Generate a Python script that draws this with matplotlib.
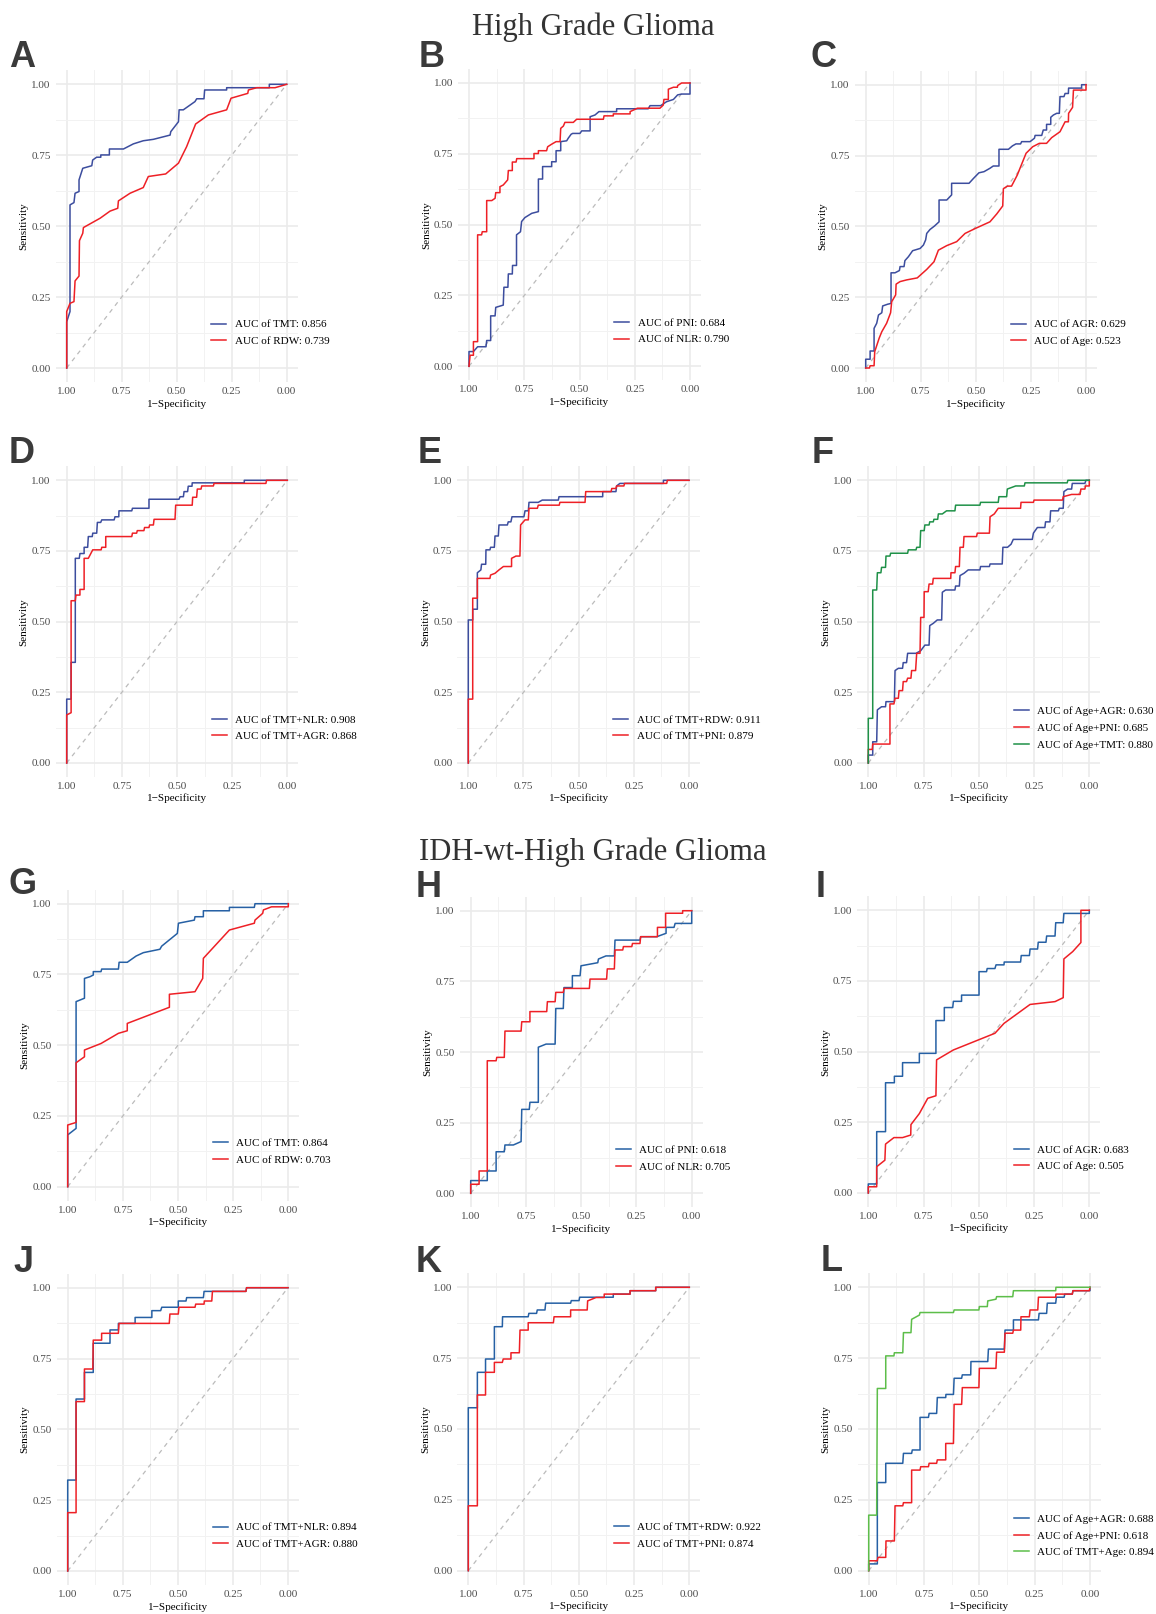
import matplotlib.pyplot as plt
import numpy as np

plt.rcParams['font.family'] = ['Liberation Serif', 'DejaVu Serif']

# ROC curves: (specificity, sensitivity)
# ---- High Grade Glioma ----
a_tmt = [(1, 0), (1, 0.163), (0.985, 0.199), (0.985, 0.575), (0.967, 0.583), (0.962, 0.616), (0.944, 0.622),
         (0.944, 0.663), (0.927, 0.704), (0.886, 0.713), (0.882, 0.733), (0.864, 0.743), (0.845, 0.743),
         (0.845, 0.751), (0.806, 0.751), (0.806, 0.772), (0.742, 0.772), (0.697, 0.790), (0.652, 0.801),
         (0.606, 0.806), (0.530, 0.821), (0.527, 0.833), (0.492, 0.868), (0.489, 0.910), (0.470, 0.910),
         (0.417, 0.939), (0.409, 0.949), (0.376, 0.949), (0.373, 0.980), (0.273, 0.980), (0.273, 0.988),
         (0.079, 0.988), (0.079, 1), (0, 1)]
a_rdw = [(1, 0), (1, 0.199), (0.985, 0.228), (0.967, 0.234), (0.962, 0.307), (0.944, 0.324), (0.942, 0.449),
         (0.927, 0.475), (0.924, 0.495), (0.848, 0.528), (0.803, 0.553), (0.768, 0.563), (0.765, 0.589),
         (0.712, 0.616), (0.652, 0.636), (0.629, 0.675), (0.550, 0.684), (0.492, 0.722), (0.455, 0.780),
         (0.414, 0.860), (0.356, 0.892), (0.273, 0.910), (0.253, 0.951), (0.177, 0.968), (0.174, 0.980),
         (0.136, 0.988), (0.053, 0.988), (0, 1)]

b_pni = [(1, 0), (1, 0.052), (0.980, 0.052), (0.961, 0.069), (0.923, 0.069), (0.920, 0.091), (0.902, 0.091),
         (0.902, 0.178), (0.882, 0.178), (0.879, 0.208), (0.845, 0.216), (0.842, 0.279), (0.824, 0.279),
         (0.822, 0.326), (0.804, 0.326), (0.803, 0.356), (0.785, 0.356), (0.785, 0.464), (0.767, 0.475),
         (0.762, 0.511), (0.747, 0.525), (0.716, 0.540), (0.686, 0.546), (0.686, 0.661), (0.667, 0.661),
         (0.667, 0.705), (0.626, 0.705), (0.626, 0.722), (0.606, 0.722), (0.606, 0.761), (0.585, 0.761),
         (0.585, 0.793), (0.558, 0.796), (0.551, 0.805), (0.538, 0.819), (0.531, 0.822), (0.498, 0.822),
         (0.490, 0.831), (0.452, 0.831), (0.452, 0.881), (0.430, 0.887), (0.412, 0.899), (0.332, 0.899),
         (0.332, 0.909), (0.189, 0.909), (0.181, 0.920), (0.133, 0.920), (0.106, 0.934), (0.075, 0.942),
         (0.056, 0.958), (0.038, 0.961), (0, 0.961), (0, 1)]
b_nlr = [(1, 0), (0.995, 0.039), (0.980, 0.039), (0.980, 0.087), (0.961, 0.087), (0.961, 0.464), (0.943, 0.464),
         (0.940, 0.475), (0.920, 0.475), (0.920, 0.585), (0.897, 0.585), (0.882, 0.593), (0.879, 0.613),
         (0.860, 0.613), (0.860, 0.634), (0.845, 0.640), (0.825, 0.658), (0.822, 0.691), (0.804, 0.691),
         (0.804, 0.721), (0.787, 0.721), (0.784, 0.733), (0.706, 0.733), (0.706, 0.751), (0.686, 0.751),
         (0.686, 0.761), (0.649, 0.761), (0.644, 0.775), (0.626, 0.784), (0.606, 0.793), (0.588, 0.793),
         (0.585, 0.840), (0.573, 0.848), (0.566, 0.861), (0.528, 0.861), (0.513, 0.872), (0.392, 0.872),
         (0.389, 0.884), (0.347, 0.884), (0.347, 0.891), (0.271, 0.891), (0.271, 0.899), (0.249, 0.907),
         (0.238, 0.911), (0.136, 0.911), (0.121, 0.922), (0.118, 0.942), (0.098, 0.942), (0.098, 0.978),
         (0.075, 0.985), (0.057, 0.985), (0.056, 0.991), (0.038, 1), (0, 1)]

c_agr = [(1, 0), (1, 0.031), (0.980, 0.031), (0.980, 0.060), (0.962, 0.060), (0.962, 0.140), (0.950, 0.158),
         (0.942, 0.187), (0.927, 0.195), (0.923, 0.219), (0.901, 0.225), (0.885, 0.228), (0.885, 0.336),
         (0.867, 0.336), (0.847, 0.344), (0.844, 0.358), (0.826, 0.358), (0.822, 0.379), (0.806, 0.393),
         (0.787, 0.414), (0.753, 0.422), (0.738, 0.434), (0.728, 0.452), (0.723, 0.475), (0.708, 0.489),
         (0.688, 0.501), (0.667, 0.516), (0.667, 0.593), (0.632, 0.593), (0.610, 0.611), (0.610, 0.652),
         (0.531, 0.652), (0.511, 0.669), (0.486, 0.689), (0.463, 0.693), (0.436, 0.705), (0.421, 0.713),
         (0.395, 0.713), (0.395, 0.772), (0.352, 0.772), (0.334, 0.784), (0.318, 0.791), (0.297, 0.791),
         (0.292, 0.799), (0.254, 0.799), (0.234, 0.811), (0.231, 0.821), (0.201, 0.821), (0.194, 0.840),
         (0.179, 0.840), (0.179, 0.860), (0.160, 0.860), (0.160, 0.885), (0.148, 0.893), (0.133, 0.899),
         (0.121, 0.899), (0.118, 0.958), (0.100, 0.958), (0.095, 0.969), (0.080, 0.969), (0.079, 0.988),
         (0.020, 0.988), (0.020, 1), (0, 1)]
c_age = [(1, 0), (0.983, 0), (0.980, 0.008), (0.962, 0.008), (0.959, 0.058), (0.939, 0.105), (0.927, 0.128),
         (0.905, 0.158), (0.887, 0.195), (0.882, 0.234), (0.864, 0.258), (0.862, 0.296), (0.844, 0.305),
         (0.814, 0.311), (0.766, 0.318), (0.723, 0.348), (0.690, 0.375), (0.670, 0.416), (0.632, 0.432),
         (0.587, 0.446), (0.549, 0.475), (0.504, 0.492), (0.436, 0.516), (0.405, 0.544), (0.378, 0.572),
         (0.375, 0.633), (0.357, 0.642), (0.338, 0.642), (0.312, 0.681), (0.272, 0.758), (0.242, 0.781),
         (0.212, 0.793), (0.179, 0.793), (0.156, 0.813), (0.118, 0.834), (0.095, 0.869), (0.080, 0.869),
         (0.079, 0.899), (0.061, 0.920), (0.057, 0.981), (0, 0.981), (0, 1)]

d_tmt_nlr = [(1, 0), (1, 0.226), (0.980, 0.226), (0.980, 0.356), (0.961, 0.356), (0.961, 0.724), (0.943, 0.724),
             (0.940, 0.741), (0.921, 0.741), (0.921, 0.763), (0.905, 0.763), (0.902, 0.801), (0.884, 0.801),
             (0.882, 0.813), (0.864, 0.813), (0.861, 0.851), (0.846, 0.851), (0.841, 0.860), (0.785, 0.860),
             (0.781, 0.871), (0.764, 0.871), (0.763, 0.892), (0.705, 0.892), (0.702, 0.901), (0.627, 0.901),
             (0.627, 0.933), (0.491, 0.933), (0.486, 0.942), (0.471, 0.942), (0.468, 0.960), (0.452, 0.960),
             (0.449, 0.979), (0.432, 0.979), (0.431, 0.991), (0.195, 0.991), (0.195, 1), (0, 1)]
d_tmt_agr = [(1, 0), (1, 0.170), (0.980, 0.178), (0.980, 0.574), (0.961, 0.574), (0.958, 0.594), (0.940, 0.594),
             (0.940, 0.614), (0.921, 0.614), (0.921, 0.724), (0.902, 0.724), (0.882, 0.754), (0.844, 0.754),
             (0.841, 0.763), (0.823, 0.763), (0.823, 0.801), (0.705, 0.801), (0.702, 0.813), (0.683, 0.813),
             (0.680, 0.822), (0.650, 0.822), (0.647, 0.833), (0.627, 0.833), (0.624, 0.842), (0.607, 0.842),
             (0.604, 0.862), (0.509, 0.862), (0.506, 0.912), (0.431, 0.912), (0.429, 0.940), (0.411, 0.940),
             (0.408, 0.969), (0.391, 0.969), (0.388, 0.980), (0.335, 0.980), (0.332, 0.989), (0.097, 0.989),
             (0.094, 1), (0, 1)]

e_tmt_rdw = [(1, 0), (1, 0.506), (0.980, 0.506), (0.980, 0.544), (0.959, 0.544), (0.959, 0.673), (0.943, 0.683),
             (0.940, 0.703), (0.921, 0.703), (0.920, 0.754), (0.902, 0.754), (0.899, 0.763), (0.882, 0.763),
             (0.879, 0.803), (0.864, 0.803), (0.861, 0.842), (0.823, 0.842), (0.819, 0.853), (0.807, 0.853),
             (0.802, 0.871), (0.748, 0.871), (0.743, 0.892), (0.728, 0.892), (0.725, 0.922), (0.683, 0.922),
             (0.665, 0.930), (0.592, 0.930), (0.589, 0.942), (0.391, 0.942), (0.391, 0.960), (0.331, 0.960),
             (0.328, 0.980), (0.313, 0.989), (0.116, 0.989), (0.116, 1), (0, 1)]
e_tmt_pni = [(1, 0), (1, 0.226), (0.980, 0.226), (0.980, 0.583), (0.959, 0.583), (0.959, 0.653), (0.902, 0.653),
             (0.899, 0.665), (0.879, 0.671), (0.861, 0.683), (0.841, 0.695), (0.804, 0.695), (0.804, 0.724),
             (0.784, 0.732), (0.766, 0.732), (0.763, 0.842), (0.743, 0.860), (0.728, 0.860), (0.725, 0.901),
             (0.687, 0.901), (0.683, 0.912), (0.588, 0.912), (0.585, 0.922), (0.471, 0.922), (0.468, 0.960),
             (0.353, 0.960), (0.350, 0.971), (0.331, 0.971), (0.328, 0.980), (0.295, 0.980), (0.292, 0.989),
             (0.101, 0.989), (0.098, 1), (0, 1)]

f_age_agr = [(1, 0), (1, 0.028), (0.980, 0.028), (0.980, 0.075), (0.962, 0.075), (0.959, 0.188), (0.940, 0.199),
             (0.922, 0.199), (0.920, 0.217), (0.882, 0.217), (0.879, 0.327), (0.864, 0.335), (0.845, 0.335),
             (0.842, 0.355), (0.827, 0.355), (0.822, 0.388), (0.784, 0.388), (0.763, 0.397), (0.744, 0.417),
             (0.725, 0.417), (0.722, 0.486), (0.706, 0.494), (0.688, 0.506), (0.668, 0.506), (0.665, 0.604),
             (0.650, 0.612), (0.608, 0.612), (0.605, 0.626), (0.588, 0.626), (0.585, 0.663), (0.567, 0.671),
             (0.548, 0.683), (0.495, 0.683), (0.492, 0.695), (0.452, 0.695), (0.449, 0.704), (0.394, 0.704),
             (0.391, 0.763), (0.370, 0.763), (0.354, 0.774), (0.344, 0.791), (0.258, 0.791), (0.253, 0.813),
             (0.235, 0.833), (0.201, 0.833), (0.198, 0.853), (0.178, 0.853), (0.175, 0.892), (0.140, 0.892),
             (0.136, 0.901), (0.118, 0.901), (0.115, 0.960), (0.098, 0.969), (0.080, 0.969), (0.077, 0.989),
             (0.020, 0.989), (0.015, 1), (0, 1)]
f_age_pni = [(1, 0), (1, 0.048), (0.982, 0.048), (0.980, 0.067), (0.902, 0.067), (0.902, 0.209), (0.884, 0.209),
             (0.879, 0.229), (0.864, 0.229), (0.861, 0.256), (0.845, 0.256), (0.842, 0.288), (0.827, 0.288),
             (0.822, 0.300), (0.807, 0.300), (0.804, 0.327), (0.786, 0.327), (0.781, 0.388), (0.766, 0.388),
             (0.763, 0.515), (0.748, 0.515), (0.747, 0.606), (0.729, 0.606), (0.725, 0.633), (0.709, 0.633),
             (0.706, 0.653), (0.627, 0.653), (0.626, 0.673), (0.608, 0.673), (0.605, 0.695), (0.588, 0.695),
             (0.585, 0.763), (0.570, 0.763), (0.567, 0.801), (0.510, 0.801), (0.507, 0.813), (0.452, 0.813),
             (0.449, 0.871), (0.430, 0.881), (0.412, 0.901), (0.311, 0.901), (0.309, 0.922), (0.253, 0.922),
             (0.250, 0.930), (0.121, 0.930), (0.118, 0.942), (0.080, 0.950), (0.042, 0.950), (0.038, 0.969),
             (0.020, 0.969), (0.017, 0.980), (0, 0.980), (0, 1)]
f_age_tmt = [(1, 0), (1, 0.158), (0.980, 0.158), (0.980, 0.612), (0.962, 0.612), (0.959, 0.673), (0.943, 0.673),
             (0.940, 0.692), (0.922, 0.692), (0.920, 0.732), (0.902, 0.732), (0.899, 0.742), (0.822, 0.742),
             (0.819, 0.754), (0.784, 0.754), (0.781, 0.763), (0.766, 0.763), (0.763, 0.822), (0.747, 0.822),
             (0.744, 0.842), (0.725, 0.842), (0.722, 0.853), (0.706, 0.853), (0.703, 0.862), (0.686, 0.862),
             (0.683, 0.881), (0.665, 0.881), (0.646, 0.892), (0.608, 0.892), (0.605, 0.912), (0.495, 0.912),
             (0.492, 0.922), (0.412, 0.922), (0.409, 0.942), (0.374, 0.942), (0.371, 0.969), (0.333, 0.980),
             (0.294, 0.980), (0.291, 0.991), (0.100, 0.991), (0.097, 1), (0, 1)]

# ---- IDH-wt High Grade Glioma ----
g_tmt = [(1, 0), (1, 0.183), (0.962, 0.206), (0.962, 0.654), (0.924, 0.666), (0.924, 0.736), (0.899, 0.742),
         (0.884, 0.748), (0.884, 0.760), (0.849, 0.760), (0.846, 0.769), (0.770, 0.769), (0.767, 0.793),
         (0.730, 0.793), (0.690, 0.815), (0.657, 0.827), (0.582, 0.839), (0.574, 0.850), (0.503, 0.895),
         (0.498, 0.931), (0.426, 0.942), (0.423, 0.954), (0.385, 0.954), (0.385, 0.975), (0.267, 0.975),
         (0.267, 0.987), (0.154, 0.987), (0.151, 1), (0, 1)]
g_rdw = [(1, 0), (1, 0.218), (0.962, 0.227), (0.962, 0.438), (0.924, 0.459), (0.924, 0.483), (0.849, 0.506),
         (0.770, 0.542), (0.730, 0.551), (0.730, 0.577), (0.539, 0.634), (0.539, 0.680), (0.423, 0.689),
         (0.388, 0.736), (0.385, 0.807), (0.267, 0.907), (0.154, 0.931), (0.151, 0.942), (0.116, 0.966),
         (0.113, 0.978), (0.076, 0.989), (0, 0.989), (0, 1)]

h_pni = [(1, 0), (1, 0.045), (0.925, 0.045), (0.925, 0.079), (0.885, 0.079), (0.885, 0.147), (0.848, 0.147),
         (0.845, 0.171), (0.807, 0.171), (0.772, 0.183), (0.769, 0.297), (0.735, 0.297), (0.732, 0.322),
         (0.694, 0.322), (0.694, 0.517), (0.659, 0.528), (0.618, 0.528), (0.615, 0.654), (0.581, 0.654),
         (0.578, 0.728), (0.540, 0.728), (0.540, 0.770), (0.505, 0.770), (0.501, 0.805), (0.425, 0.816),
         (0.422, 0.829), (0.388, 0.840), (0.350, 0.840), (0.347, 0.896), (0.234, 0.896), (0.231, 0.908),
         (0.158, 0.908), (0.116, 0.920), (0.116, 0.941), (0.080, 0.941), (0.075, 0.955), (0, 0.955), (0, 1)]
h_nlr = [(1, 0), (1, 0.032), (0.962, 0.032), (0.962, 0.079), (0.925, 0.079), (0.925, 0.469), (0.885, 0.469),
         (0.882, 0.481), (0.848, 0.481), (0.845, 0.574), (0.772, 0.574), (0.769, 0.607), (0.732, 0.607),
         (0.732, 0.643), (0.656, 0.643), (0.653, 0.678), (0.618, 0.678), (0.615, 0.711), (0.581, 0.711),
         (0.578, 0.725), (0.463, 0.725), (0.460, 0.758), (0.385, 0.758), (0.382, 0.794), (0.350, 0.794),
         (0.347, 0.861), (0.312, 0.861), (0.309, 0.873), (0.271, 0.873), (0.268, 0.884), (0.234, 0.884),
         (0.231, 0.908), (0.155, 0.908), (0.155, 0.941), (0.118, 0.941), (0.118, 0.991), (0.041, 0.991),
         (0.041, 1), (0, 1)]

i_agr = [(1, 0), (1, 0.032), (0.962, 0.032), (0.962, 0.217), (0.922, 0.217), (0.922, 0.390), (0.882, 0.390),
         (0.882, 0.413), (0.845, 0.413), (0.845, 0.461), (0.769, 0.461), (0.769, 0.494), (0.694, 0.494),
         (0.694, 0.610), (0.656, 0.610), (0.656, 0.656), (0.618, 0.656), (0.615, 0.678), (0.578, 0.678),
         (0.578, 0.700), (0.499, 0.700), (0.499, 0.783), (0.465, 0.783), (0.462, 0.794), (0.427, 0.794),
         (0.422, 0.807), (0.386, 0.807), (0.385, 0.817), (0.311, 0.817), (0.308, 0.840), (0.271, 0.840),
         (0.268, 0.863), (0.234, 0.863), (0.231, 0.887), (0.196, 0.887), (0.193, 0.909), (0.155, 0.909),
         (0.152, 0.956), (0.118, 0.956), (0.115, 0.989), (0, 0.989), (0, 1)]
i_age = [(1, 0), (1, 0.022), (0.962, 0.022), (0.962, 0.093), (0.925, 0.116), (0.922, 0.173), (0.884, 0.196),
         (0.845, 0.196), (0.808, 0.205), (0.807, 0.242), (0.769, 0.281), (0.731, 0.335), (0.694, 0.344),
         (0.691, 0.471), (0.615, 0.506), (0.427, 0.565), (0.386, 0.600), (0.268, 0.667), (0.155, 0.677),
         (0.118, 0.691), (0.115, 0.828), (0.075, 0.854), (0.038, 0.886), (0.038, 1), (0, 1)]

j_tmt_nlr = [(1, 0), (1, 0.321), (0.962, 0.321), (0.962, 0.607), (0.924, 0.607), (0.924, 0.701), (0.884, 0.701),
             (0.884, 0.804), (0.808, 0.804), (0.808, 0.851), (0.770, 0.851), (0.770, 0.874), (0.694, 0.874),
             (0.694, 0.895), (0.618, 0.895), (0.618, 0.919), (0.578, 0.919), (0.573, 0.931), (0.498, 0.931),
             (0.498, 0.953), (0.463, 0.953), (0.460, 0.965), (0.384, 0.965), (0.381, 0.987), (0.191, 0.987),
             (0.188, 1), (0, 1)]
j_tmt_agr = [(1, 0), (1, 0.206), (0.962, 0.206), (0.962, 0.598), (0.924, 0.598), (0.924, 0.713), (0.886, 0.713),
             (0.884, 0.815), (0.846, 0.815), (0.846, 0.839), (0.770, 0.839), (0.767, 0.874), (0.539, 0.874),
             (0.536, 0.907), (0.498, 0.907), (0.495, 0.931), (0.422, 0.931), (0.419, 0.942), (0.381, 0.942),
             (0.380, 0.953), (0.346, 0.953), (0.343, 0.987), (0.191, 0.987), (0.188, 1), (0, 1)]

k_tmt_rdw = [(1, 0), (1, 0.575), (0.959, 0.575), (0.959, 0.700), (0.922, 0.700), (0.922, 0.747), (0.882, 0.747),
             (0.882, 0.861), (0.846, 0.861), (0.845, 0.896), (0.729, 0.896), (0.726, 0.908), (0.691, 0.908),
             (0.688, 0.920), (0.653, 0.920), (0.650, 0.944), (0.537, 0.944), (0.534, 0.953), (0.499, 0.953),
             (0.496, 0.965), (0.344, 0.965), (0.344, 0.976), (0.268, 0.976), (0.268, 0.988), (0.152, 0.988),
             (0.152, 1), (0, 1)]
k_tmt_pni = [(1, 0), (1, 0.229), (0.959, 0.229), (0.959, 0.620), (0.922, 0.620), (0.922, 0.700), (0.882, 0.700),
             (0.882, 0.735), (0.846, 0.735), (0.842, 0.747), (0.807, 0.747), (0.807, 0.769), (0.769, 0.769),
             (0.766, 0.849), (0.729, 0.849), (0.729, 0.875), (0.615, 0.875), (0.612, 0.896), (0.537, 0.896),
             (0.537, 0.920), (0.462, 0.920), (0.460, 0.952), (0.422, 0.964), (0.385, 0.964), (0.385, 0.976),
             (0.268, 0.976), (0.268, 0.988), (0.152, 0.988), (0.152, 1), (0, 1)]

l_age_agr = [(1, 0), (1, 0.024), (0.961, 0.024), (0.961, 0.311), (0.923, 0.311), (0.923, 0.379), (0.846, 0.379),
             (0.843, 0.414), (0.806, 0.414), (0.803, 0.426), (0.768, 0.426), (0.768, 0.541), (0.730, 0.541),
             (0.727, 0.555), (0.693, 0.555), (0.690, 0.611), (0.652, 0.611), (0.651, 0.622), (0.617, 0.622),
             (0.614, 0.679), (0.580, 0.679), (0.577, 0.691), (0.539, 0.691), (0.538, 0.738), (0.462, 0.738),
             (0.459, 0.782), (0.387, 0.782), (0.384, 0.849), (0.346, 0.849), (0.346, 0.885), (0.233, 0.885),
             (0.230, 0.908), (0.196, 0.908), (0.193, 0.944), (0.155, 0.944), (0.152, 0.965), (0.117, 0.965),
             (0.114, 0.976), (0.080, 0.976), (0.077, 0.988), (0, 0.988), (0, 1)]
l_age_pni = [(1, 0), (1, 0.035), (0.961, 0.035), (0.958, 0.047), (0.923, 0.047), (0.922, 0.105), (0.884, 0.105),
             (0.881, 0.229), (0.846, 0.229), (0.843, 0.240), (0.806, 0.240), (0.806, 0.355), (0.768, 0.355),
             (0.765, 0.367), (0.730, 0.367), (0.727, 0.379), (0.693, 0.379), (0.690, 0.391), (0.652, 0.391),
             (0.652, 0.449), (0.617, 0.449), (0.614, 0.587), (0.580, 0.587), (0.577, 0.646), (0.502, 0.646),
             (0.500, 0.714), (0.425, 0.714), (0.422, 0.771), (0.387, 0.771), (0.384, 0.838), (0.349, 0.838),
             (0.346, 0.849), (0.313, 0.849), (0.312, 0.896), (0.274, 0.896), (0.271, 0.920), (0.236, 0.920),
             (0.233, 0.965), (0.155, 0.965), (0.154, 0.976), (0.080, 0.976), (0.077, 0.988), (0.003, 0.988),
             (0, 1)]
l_tmt_age = [(1, 0), (1, 0.196), (0.964, 0.196), (0.961, 0.643), (0.923, 0.643), (0.923, 0.758), (0.886, 0.758),
             (0.884, 0.769), (0.846, 0.769), (0.843, 0.840), (0.809, 0.840), (0.806, 0.887), (0.771, 0.902),
             (0.768, 0.911), (0.617, 0.911), (0.614, 0.920), (0.502, 0.920), (0.500, 0.932), (0.464, 0.932),
             (0.462, 0.952), (0.425, 0.958), (0.422, 0.967), (0.349, 0.967), (0.346, 0.988), (0.155, 0.988),
             (0.154, 1), (0, 1)]

letters = list('ABCDEFGHIJKL')
curve_names = [['TMT', 'RDW'], ['PNI', 'NLR'], ['AGR', 'Age'],
               ['TMT+NLR', 'TMT+AGR'], ['TMT+RDW', 'TMT+PNI'], ['Age+AGR', 'Age+PNI', 'Age+TMT'],
               ['TMT', 'RDW'], ['PNI', 'NLR'], ['AGR', 'Age'],
               ['TMT+NLR', 'TMT+AGR'], ['TMT+RDW', 'TMT+PNI'], ['Age+AGR', 'Age+PNI', 'TMT+Age']]
auc_values = [[0.856, 0.739], [0.684, 0.790], [0.629, 0.523],
              [0.908, 0.868], [0.911, 0.879], [0.630, 0.685, 0.880],
              [0.864, 0.703], [0.618, 0.705], [0.683, 0.505],
              [0.894, 0.880], [0.922, 0.874], [0.688, 0.618, 0.894]]
curves = [[a_tmt, a_rdw], [b_pni, b_nlr], [c_agr, c_age],
          [d_tmt_nlr, d_tmt_agr], [e_tmt_rdw, e_tmt_pni], [f_age_agr, f_age_pni, f_age_tmt],
          [g_tmt, g_rdw], [h_pni, h_nlr], [i_agr, i_age],
          [j_tmt_nlr, j_tmt_agr], [k_tmt_rdw, k_tmt_pni], [l_age_agr, l_age_pni, l_tmt_age]]

# layout, in pixels of the 1156x1614 output:
# where spec=1, spec=0, sens=1, sens=0 land, and the panel letter (left, baseline)
W, H = 1156, 1614
frames = [(66.7, 286.7, 84.3, 368), (469, 690, 83, 366.3), (865.7, 1086, 84.7, 368),
          (66.7, 287.3, 480.3, 763), (468.3, 689, 480.3, 763), (868.3, 1089.3, 480.3, 763),
          (67.7, 288.3, 903.7, 1186.7), (470.7, 691.7, 910.7, 1193.3), (868.3, 1089.3, 910.3, 1193),
          (67.7, 288, 1287.7, 1571), (468.3, 689.3, 1287.3, 1570.7), (868.7, 1090, 1287.3, 1570.7)]
letter_pos = [(9, 67), (419, 67), (810, 67),
              (9, 463), (418, 463), (812, 463),
              (8, 894), (416, 897), (816, 897),
              (13, 1272), (416, 1272), (821, 1271)]

top_colors = ['#3C4D9E', '#EE2026', '#1F9148']
bottom_colors = ['#2660A4', '#EE2026', '#5DBE4A']

fig = plt.figure(figsize=(W / 100, H / 100), dpi=100)

for i in range(12):
    x1, x0, y1, y0 = frames[i]
    dx, dy = x0 - x1, y0 - y1
    left = x1 - 0.05 * dx
    top = y1 - 0.05 * dy
    ax = fig.add_axes([left / W, 1 - (top + 1.1 * dy) / H, 1.1 * dx / W, 1.1 * dy / H])
    ax.set_xlim(1.05, -0.05)
    ax.set_ylim(-0.05, 1.05)

    ticks = [0, 0.25, 0.5, 0.75, 1]
    ax.set_xticks(ticks)
    ax.set_yticks(ticks)
    ax.set_xticks([0.125, 0.375, 0.625, 0.875], minor=True)
    ax.set_yticks([0.125, 0.375, 0.625, 0.875], minor=True)
    ax.set_xticklabels(['%.2f' % t for t in ticks])
    ax.set_yticklabels(['%.2f' % t for t in ticks])
    ax.grid(which='major', color='#EBEBEB', lw=1.2)
    ax.grid(which='minor', color='#F2F2F2', lw=0.7)
    ax.set_axisbelow(True)
    ax.tick_params(which='both', length=0, pad=3.5, labelsize=8, labelcolor='#4D4D4D')
    for s in ax.spines.values():
        s.set_visible(False)

    ax.plot([1, 0], [0, 1], color='#BBBBBB', lw=0.9, dashes=(3.5, 3.5))

    colors = top_colors if i < 6 else bottom_colors
    for k, pts in enumerate(curves[i]):
        pts = np.array(pts)
        ax.plot(pts[:, 0], pts[:, 1], color=colors[k], lw=1.1,
                label='AUC of %s: %.3f' % (curve_names[i][k], auc_values[i][k]))

    ax.legend(loc='center left', bbox_to_anchor=(0.643, 0.158), frameon=False,
              fontsize=8, handlelength=1.35, handletextpad=0.75, labelspacing=0.62,
              borderpad=0, borderaxespad=0)

    ax.set_xlabel('1\u2212Specificity', fontsize=8, labelpad=2)
    ax.set_ylabel('Sensitivity', fontsize=8, labelpad=2)

    lx, lb = letter_pos[i]
    fig.text(lx / W, 1 - lb / H, letters[i], ha='left', va='baseline', fontsize=26,
             fontweight='bold', family='Liberation Sans', color='#3A3A3A')

fig.text(593 / W, 1 - 35 / H, 'High Grade Glioma', ha='center', va='baseline',
         fontsize=22, color='#333333')
fig.text(593 / W, 1 - 860 / H, 'IDH-wt-High Grade Glioma', ha='center', va='baseline',
         fontsize=22, color='#333333')

fig.savefig('out.png', dpi=100, facecolor='white')
